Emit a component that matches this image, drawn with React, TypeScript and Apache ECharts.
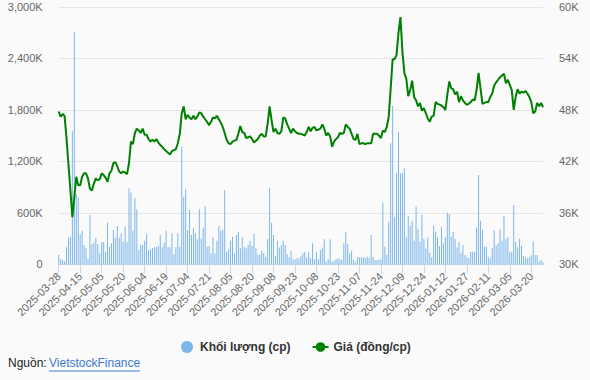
import React, { useEffect, useRef } from "react";
import * as echarts from "echarts";

// First trading day shown and market holidays (weekdays without trading)
const startDate = "2025-03-28";
const holidays = [
  "2025-04-07", "2025-04-30", "2025-05-01", "2025-05-02",
  "2025-09-01", "2025-09-02", "2026-01-01", "2026-01-02",
  "2026-02-16", "2026-02-17", "2026-02-18", "2026-02-19", "2026-02-20",
];

// Khối lượng (nghìn cp)
const volume = [
  108, 60, 50, 35, 198, 310, 322, 1550, 2705, 819,
  780, 353, 392, 225, 186, 62, 574, 236, 252, 306,
  236, 128, 256, 256, 147, 485, 205, 245, 400, 310,
  446, 310, 361, 263, 438, 263, 885, 834, 392, 769,
  640, 167, 225, 225, 275, 353, 167, 175, 186, 198,
  205, 213, 341, 198, 252, 392, 198, 198, 361, 120,
  198, 361, 205, 1370, 787, 874, 400, 632, 341, 419,
  361, 291, 640, 298, 430, 680, 205, 213, 128, 314,
  128, 275, 446, 392, 400, 866, 147, 175, 275, 322,
  128, 341, 380, 186, 314, 205, 186, 225, 275, 213,
  353, 186, 108, 108, 159, 128, 89, 291, 885, 485,
  341, 97, 275, 197, 225, 275, 225, 120, 82, 159,
  58, 58, 70, 70, 97, 128, 147, 82, 140, 70,
  245, 58, 140, 58, 167, 197, 291, 30, 58, 291,
  30, 42, 58, 70, 58, 50, 245, 376, 236, 128,
  159, 50, 30, 82, 82, 82, 82, 70, 89, 75,
  341, 89, 50, 50, 50, 58, 718, 205, 108, 496,
  1411, 1844, 555, 1060, 1545, 1060, 1060, 1118, 314, 563,
  446, 508, 275, 672, 408, 263, 574, 294, 186, 314,
  136, 82, 446, 380, 314, 213, 438, 245, 314, 601,
  586, 322, 380, 294, 197, 263, 136, 225, 108, 89,
  70, 147, 147, 147, 430, 1040, 508, 400, 205, 205,
  82, 70, 186, 400, 218, 245, 408, 275, 563, 291,
  318, 147, 147, 690, 260, 200, 298, 213, 100, 82,
  70, 82, 102, 262, 108, 108, 30, 50, 22,
];

// Giá (nghìn đồng/cp)
const price = [
  47.8, 47.2, 47.5, 47.3, 44.7, 41.6, 38.6, 35.5, 37.8, 40.2,
  39.2, 39.2, 40.2, 40.6, 40.6, 40.0, 38.8, 38.6, 39.4, 40.0,
  39.8, 39.9, 40.6, 40.4, 40.1, 39.6, 40.6, 40.9, 41.8, 41.9,
  41.4, 40.8, 40.6, 40.8, 40.7, 40.5, 41.8, 44.3, 44.0, 45.3,
  45.8, 45.6, 45.3, 45.8, 45.1, 45.1, 44.6, 44.3, 44.5, 44.3,
  44.6, 44.2, 43.9, 43.7, 43.4, 43.2, 43.0, 42.8, 43.2, 43.3,
  43.4, 44.1, 45.2, 47.6, 48.4, 46.9, 47.4, 47.1, 46.9, 47.3,
  46.9, 47.2, 47.7, 47.6, 47.2, 46.9, 46.6, 46.2, 46.6, 47.1,
  47.0, 47.3, 46.9, 46.5, 46.0, 45.3, 44.5, 44.1, 44.0, 44.3,
  44.4, 44.5, 45.2, 46.1, 45.4, 45.3, 44.7, 44.8, 44.9, 44.6,
  44.2, 44.4, 44.6, 45.0, 45.2, 44.9, 44.9, 46.4, 48.4, 46.8,
  45.4, 45.8, 45.3, 45.2, 45.5, 47.1, 47.0, 46.3, 45.8, 45.3,
  45.8, 45.5, 45.3, 45.2, 45.2, 45.1, 45.0, 45.4, 46.0, 45.5,
  45.9, 46.0, 45.6, 45.7, 45.8, 46.3, 45.8, 45.0, 45.3, 44.9,
  43.7, 44.3, 44.6, 44.8, 45.3, 45.2, 45.3, 46.3, 46.0, 45.8,
  45.2, 44.6, 44.5, 45.2, 44.0, 44.1, 44.1, 44.0, 44.1, 44.1,
  44.1, 45.2, 45.2, 45.2, 45.0, 44.7, 45.6, 45.4, 46.0, 47.2,
  50.5, 53.9, 53.9, 54.4, 57.0, 58.8, 54.8, 52.3, 51.6, 49.6,
  50.3, 51.4, 49.5, 49.1, 48.4, 48.8, 47.9, 48.2, 47.6, 47.0,
  46.6, 47.2, 47.3, 48.9, 48.7, 48.6, 48.5, 48.3, 48.0, 49.7,
  51.3, 50.5, 50.4, 49.8, 50.1, 48.9, 49.6, 49.1, 48.8, 48.6,
  48.7, 48.9, 49.2, 49.1, 50.3, 52.3, 50.5, 48.7, 48.8, 48.9,
  48.9, 49.5, 49.9, 50.8, 51.2, 51.5, 51.8, 52.0, 52.2, 51.1,
  51.5, 50.9, 50.3, 48.0, 49.5, 50.4, 49.9, 50.1, 50.0, 50.2,
  49.9, 49.5, 48.9, 47.6, 47.8, 48.8, 48.4, 48.8, 48.3,
];

const volumeName = "Khối lượng (cp)";
const priceName = "Giá (đồng/cp)";

function tradingDays(start: string, n: number, off: string[]): string[] {
  const out: string[] = [];
  const [y, m, d] = start.split("-").map(Number);
  let t = Date.UTC(y, m - 1, d);
  while (out.length < n) {
    const dt = new Date(t);
    const wd = dt.getUTCDay();
    const s = dt.toISOString().slice(0, 10);
    if (wd !== 0 && wd !== 6 && off.indexOf(s) < 0) out.push(s);
    t += 86400000;
  }
  return out;
}

const FONT = "Arial, 'Liberation Sans', sans-serif";

export default function App() {
  const ref = useRef<HTMLDivElement>(null);
  useEffect(() => {
    if (!ref.current) return;
    const chart = echarts.init(ref.current, undefined, { renderer: "svg" });
    const dates = tradingDays(startDate, price.length, holidays);
    chart.setOption({
      animation: false,
      backgroundColor: "#fafafa",
      textStyle: { fontFamily: FONT },
      grid: { left: 58.7, right: 47, top: 6.8, bottom: 115.7, containLabel: false },
      legend: {
        left: 176,
        top: 336,
        itemWidth: 16,
        itemHeight: 12,
        itemGap: 21,
        textStyle: { fontFamily: FONT, fontSize: 12, fontWeight: "bold", color: "#333333" },
        data: [
          { name: volumeName, icon: "circle" },
          { name: priceName },
        ],
      },
      xAxis: {
        type: "category",
        data: dates,
        boundaryGap: false,
        axisLine: { lineStyle: { color: "#ccd6eb" } },
        axisTick: { interval: 10, length: 9, lineStyle: { color: "#ccd6eb" } },
        axisLabel: {
          interval: 10,
          rotate: 45,
          color: "#666666",
          fontSize: 11,
          fontFamily: FONT,
          margin: 10,
        },
        splitLine: { show: false },
      },
      yAxis: [
        {
          type: "value",
          min: 0,
          max: 3000,
          interval: 600,
          position: "left",
          axisLine: { show: false },
          axisTick: { show: false },
          axisLabel: {
            color: "#666666",
            fontSize: 11,
            fontFamily: FONT,
            margin: 16,
            padding: [6, 0, 0, 0],
            formatter: (v: number) => (v === 0 ? "0" : v.toLocaleString("en-US") + "K"),
          },
          splitLine: { lineStyle: { color: "#e6e6e6", width: 1 } },
        },
        {
          type: "value",
          min: 30,
          max: 60,
          interval: 6,
          position: "right",
          axisLine: { show: false },
          axisTick: { show: false },
          axisLabel: {
            color: "#666666",
            fontSize: 11,
            fontFamily: FONT,
            margin: 16,
            padding: [6, 0, 0, 0],
            formatter: (v: number) => v + "K",
          },
          splitLine: { show: false },
        },
      ],
      series: [
        {
          name: volumeName,
          type: "bar",
          yAxisIndex: 0,
          data: volume,
          barWidth: 1,
          itemStyle: { color: "#7cb5ec" },
        },
        {
          name: priceName,
          type: "line",
          yAxisIndex: 1,
          data: price,
          symbol: "circle",
          symbolSize: 8,
          showSymbol: false,
          lineStyle: { color: "#008000", width: 2 },
          itemStyle: { color: "#008000" },
        },
      ],
      graphic: [
        {
          type: "text",
          left: 8,
          top: 357,
          style: { text: "Nguồn:", font: `12px ${FONT}`, fill: "#222222" },
        },
        {
          type: "text",
          left: 49,
          top: 357,
          style: { text: "VietstockFinance", font: `12px ${FONT}`, fill: "#3d79d8" },
        },
        {
          type: "line",
          shape: { x1: 49, y1: 371, x2: 140, y2: 371 },
          style: { stroke: "#3d79d8", lineWidth: 1 },
        },
      ],
    });
    return () => chart.dispose();
  }, []);
  return (
    <div
      ref={ref}
      style={{ position: "absolute", left: 0, top: 0, width: 590, height: 380 }}
    />
  );
}
